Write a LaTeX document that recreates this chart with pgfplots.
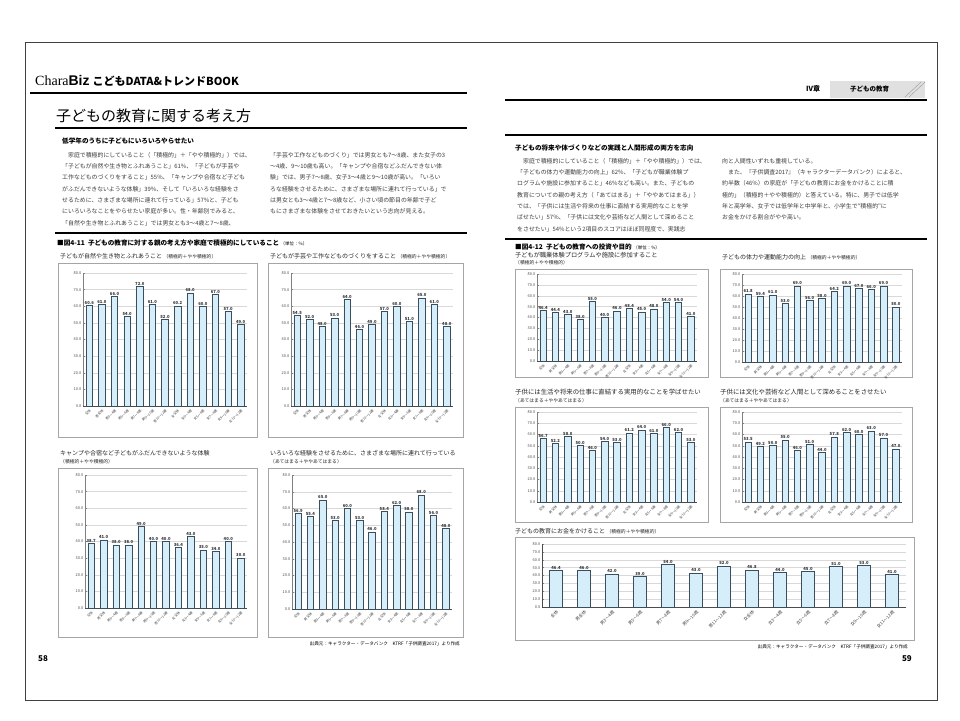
\documentclass[border=0pt]{standalone}
\usepackage{pgfplots}
\pgfplotsset{compat=1.18}
\usepackage{fontspec}
\setmainfont{Noto Sans CJK JP}
\newfontfamily\serifen{Liberation Serif}
\newfontfamily\sansen{Liberation Sans}
\definecolor{barfill}{RGB}{214,238,250}
\definecolor{bardraw}{RGB}{58,79,94}
\definecolor{gridc}{RGB}{217,217,217}
\definecolor{boxc}{RGB}{165,165,165}
\definecolor{txt}{RGB}{60,60,60}
\newcommand\fs[1]{\fontsize{#1}{#1}\selectfont}
\pgfplotsset{
  mini/.style={
    scale only axis, anchor=south west,
    ybar, bar width=6.5pt,
    ymin=0, ymax=80, ytick={0,10,...,80},
    xmin=-0.5, xmax=12.5, xtick={0,...,12},
    xticklabels={全体,男全体,男3～4歳,男5～6歳,男7～8歳,男9～10歳,男11～12歳,女全体,女3～4歳,女5～6歳,女7～8歳,女9～10歳,女11～12歳},
    axis x line*=bottom, axis y line*=left,
    ymajorgrids, grid style={gridc, line width=0.5pt},
    x axis line style={black!70, line width=0.7pt, -},
    y axis line style={black!50, line width=0.5pt, -},
    xtick style={draw=none},
    ytick style={black!50, line width=0.4pt},
    major tick length=2pt,
    /pgf/number format/assume math mode=true,
    yticklabel={\pgfmathprintnumber[fixed,fixed zerofill,precision=1]{\tick}},
    yticklabel style={font=\fs{3.9}, text=black!70, inner sep=1.5pt},
    xticklabel style={font=\fs{3.3}, text=black!75, rotate=45, anchor=north east, inner sep=0.6pt},
    nodes near coords={\pgfmathprintnumber[fixed,fixed zerofill,precision=1]{\pgfplotspointmeta}},
    every node near coord/.append style={font=\bfseries\fs{4.2}, text=black!80, inner sep=0.8pt},
    clip=false,
  },
  barsty/.style={fill=barfill, draw=bardraw, line width=0.6pt},
}
\begin{document}
\begin{tikzpicture}[x=1pt,y=1pt]
\fill[white] (0,0) rectangle (960,-720);
\path[use as bounding box] (0,0) rectangle (960,-720);
% page frame
\draw[black!75, line width=0.8pt] (25,-42) rectangle (937,-700);
% ---------- left page header ----------
\node[anchor=west, inner sep=0] at (35,-81) {{\serifen\fs{14}Chara}{\sansen\bfseries\fs{14}Biz}\hspace{3pt}{\bfseries\fs{11}こどもDATA\&トレンドBOOK}};
\draw[black, line width=1.3pt] (30,-93) -- (467,-93);
\node[anchor=west, inner sep=0] at (56,-116) {\fs{15}子どもの教育に関する考え方};
\draw[black, line width=1.3pt] (55,-128) -- (467,-128);
\node[anchor=west, inner sep=0] at (62,-141) {\bfseries\fs{6.6}低学年のうちに子どもにいろいろやらせたい};
\begin{scope}[every node/.style={anchor=west, inner sep=0, font=\fs{5.9}, text=txt}]
\node at (62,-155) {　家庭で積極的にしていること（「積極的」＋「やや積極的」）では、};
\node at (62,-166.3) {「子どもが自然や生き物とふれあうこと」61\%、「子どもが手芸や};
\node at (62,-177.6) {工作などものづくりをすること」55\%、「キャンプや合宿など子ども};
\node at (62,-188.9) {がふだんできないような体験」39\%、そして「いろいろな経験をさ};
\node at (62,-200.2) {せるために、さまざまな場所に連れて行っている」57\%と、子ども};
\node at (62,-211.5) {にいろいろなことをやらせたい家庭が多い。性・年齢別でみると、};
\node at (62,-222.8) {「自然や生き物とふれあうこと」では男女とも3～4歳と7～8歳、};
\node at (270,-155) {「手芸や工作などものづくり」では男女とも7～8歳、また女子の3};
\node at (270,-166.3) {～4歳、9～10歳も高い。「キャンプや合宿などふだんできない体};
\node at (270,-177.6) {験」では、男子7～8歳、女子3～4歳と9～10歳が高い。「いろい};
\node at (270,-188.9) {ろな経験をさせるために、さまざまな場所に連れて行っている」で};
\node at (270,-200.2) {は男女とも3～4歳と7～8歳など、小さい頃の節目の年齢で子ど};
\node at (270,-211.5) {もにさまざまな体験をさせておきたいという志向が見える。};
\end{scope}
\draw[black, line width=1.5pt] (55,-233) -- (467,-233);
\node[anchor=west, inner sep=0] at (57,-243) {\bfseries\fs{6.6}■図4-11\ \ 子どもの教育に対する親の考え方や家庭で積極的にしていること\ {\mdseries\fs{4.5}（単位：\%）}};
% ---------- right page header ----------
\node[anchor=west, inner sep=0] at (806,-89) {\bfseries\fs{7}Ⅳ章};
\fill[black!12] (830,-81) rectangle (925,-98);
\draw[black!40, line width=0.4pt] (905,-97) -- (921,-82) (909,-97) -- (925,-82);
\node[anchor=west, inner sep=0] at (850,-89.5) {\bfseries\fs{6.5}子どもの教育};
\draw[black, line width=1.3pt] (505,-100) -- (927,-100);
\draw[black, line width=1.5pt] (505,-135) -- (927,-135);
\node[anchor=west, inner sep=0] at (515,-148) {\bfseries\fs{6.6}子どもの将来や体づくりなどの実践と人間形成の両方を志向};
\begin{scope}[every node/.style={anchor=west, inner sep=0, font=\fs{5.9}, text=txt}]
\node at (517,-161) {　家庭で積極的にしていること（「積極的」＋「やや積極的」）では、};
\node at (517,-172.3) {「子どもの体力や運動能力の向上」62\%、「子どもが職業体験プ};
\node at (517,-183.6) {ログラムや施設に参加すること」46\%なども高い。また、子どもの};
\node at (517,-194.9) {教育についての親の考え方（「あてはまる」＋「ややあてはまる」）};
\node at (517,-206.2) {では、「子供には生活や将来の仕事に直結する実用的なことを学};
\node at (517,-217.5) {ばせたい」57\%、「子供には文化や芸術など人間として深めること};
\node at (517,-228.8) {をさせたい」54\%という2項目のスコアはほぼ同程度で、実践志};
\node at (722,-161) {向と人間性いずれも重視している。};
\node at (722,-172.3) {　また、『子供調査2017』（キャラクターデータバンク）によると、};
\node at (722,-183.6) {約半数（46\%）の家庭が「子どもの教育にお金をかけることに積};
\node at (722,-194.9) {極的」（積極的＋やや積極的）と答えている。特に、男子では低学};
\node at (722,-206.2) {年と高学年、女子では低学年と中学年と、小学生で“積極的”に};
\node at (722,-217.5) {お金をかける割合がやや高い。};
\end{scope}
\draw[black, line width=1.5pt] (505,-239) -- (927,-239);
\node[anchor=west, inner sep=0] at (515,-247) {\bfseries\fs{6.6}■図4-12\ \ 子どもの教育への投資や目的\ {\mdseries\fs{4.5}（単位：\%）}};
% ---------- chart boxes ----------
\begin{scope}[boxc, line width=0.6pt]
\draw (58,-263) rectangle (257,-437);
\draw (268,-263) rectangle (463,-437);
\draw (58,-468) rectangle (257,-637);
\draw (268,-468) rectangle (463,-637);
\draw (515,-269) rectangle (708,-377);
\draw (720,-269) rectangle (912,-377);
\draw (515,-407) rectangle (708,-522);
\draw (720,-407) rectangle (912,-522);
\draw (515,-537) rectangle (914,-640);
\end{scope}
% ---------- chart titles ----------
\begin{scope}[every node/.style={anchor=west, inner sep=0, text=black!85}]
\node at (60,-256) {\fs{6}子どもが自然や生き物とふれあうこと\ {\fs{4.8}（積極的＋やや積極的）}};
\node at (270,-256) {\fs{6}子どもが手芸や工作などものづくりをすること\ {\fs{4.8}（積極的＋やや積極的）}};
\node at (60,-453) {\fs{6}キャンプや合宿など子どもがふだんできないような体験};
\node at (60,-461.5) {\fs{4.8}（積極的＋やや積極的）};
\node at (270,-453) {\fs{6}いろいろな経験をさせるために、さまざまな場所に連れて行っている};
\node at (270,-461.5) {\fs{4.8}（あてはまる＋ややあてはまる）};
\node at (515,-255) {\fs{6.2}子どもが職業体験プログラムや施設に参加すること};
\node at (515,-263) {\fs{4.8}（積極的＋やや積極的）};
\node at (722,-257) {\fs{6}子どもの体力や運動能力の向上\ {\fs{4.8}（積極的＋やや積極的）}};
\node at (515,-392) {\fs{6.4}子供には生活や将来の仕事に直結する実用的なことを学ばせたい};
\node at (515,-400.5) {\fs{4.8}（あてはまる＋ややあてはまる）};
\node at (720,-392) {\fs{6.4}子供には文化や芸術など人間として深めることをさせたい};
\node at (720,-400.5) {\fs{4.8}（あてはまる＋ややあてはまる）};
\node at (515,-531) {\fs{6}子どもの教育にお金をかけること\ {\fs{4.8}（積極的＋やや積極的）}};
\end{scope}
% sources and page numbers
\node[anchor=east, inner sep=0] at (460,-644) {\fs{4.6}出典元：キャラクター・データバンク\quad KTRF「子供調査2017」より作成};
\node[anchor=east, inner sep=0] at (908,-647) {\fs{4.6}出典元：キャラクター・データバンク\quad KTRF「子供調査2017」より作成};
\node[anchor=west, inner sep=0] at (38,-659) {\bfseries\fs{8}58};
\node[anchor=east, inner sep=0] at (912,-659) {\bfseries\fs{8}59};
% ---------- charts ----------
\begin{axis}[mini, at={(83pt,-406pt)}, width=164pt, height=133pt]
\addplot[barsty] coordinates {(0,60.6) (1,61.0) (2,66.0) (3,54.0) (4,72.0) (5,61.0) (6,52.0) (7,60.2) (8,68.0) (9,60.0) (10,67.0) (11,57.0) (12,49.0)};
\end{axis}
\begin{axis}[mini, at={(291pt,-406pt)}, width=162pt, height=133pt]
\addplot[barsty] coordinates {(0,54.5) (1,52.0) (2,48.0) (3,53.0) (4,64.0) (5,46.0) (6,49.0) (7,57.0) (8,60.0) (9,51.0) (10,65.0) (11,61.0) (12,48.0)};
\end{axis}
\begin{axis}[mini, at={(85pt,-608pt)}, width=162pt, height=133pt]
\addplot[barsty] coordinates {(0,38.7) (1,41.0) (2,38.0) (3,38.0) (4,49.0) (5,40.0) (6,40.0) (7,36.4) (8,43.0) (9,35.0) (10,34.0) (11,40.0) (12,30.0)};
\end{axis}
\begin{axis}[mini, at={(292pt,-609pt)}, width=160pt, height=134pt]
\addplot[barsty] coordinates {(0,56.9) (1,55.4) (2,65.0) (3,53.0) (4,60.0) (5,53.0) (6,46.0) (7,58.4) (8,62.0) (9,58.0) (10,68.0) (11,56.0) (12,48.0)};
\end{axis}
\begin{axis}[mini, at={(537pt,-361pt)}, width=160pt, height=87pt]
\addplot[barsty] coordinates {(0,46.4) (1,44.4) (2,43.0) (3,38.0) (4,55.0) (5,40.0) (6,46.0) (7,48.4) (8,45.0) (9,48.0) (10,54.0) (11,54.0) (12,41.0)};
\end{axis}
\begin{axis}[mini, at={(742pt,-362pt)}, width=160pt, height=88pt]
\addplot[barsty] coordinates {(0,61.8) (1,59.4) (2,61.0) (3,53.0) (4,69.0) (5,56.0) (6,58.0) (7,64.2) (8,69.0) (9,67.0) (10,66.0) (11,69.0) (12,50.0)};
\end{axis}
\begin{axis}[mini, at={(537pt,-502pt)}, width=160pt, height=90pt]
\addplot[barsty] coordinates {(0,56.7) (1,52.2) (2,58.0) (3,50.0) (4,46.0) (5,54.0) (6,53.0) (7,61.2) (8,64.0) (9,61.0) (10,66.0) (11,62.0) (12,53.0)};
\end{axis}
\begin{axis}[mini, at={(742pt,-502pt)}, width=160pt, height=90pt]
\addplot[barsty] coordinates {(0,53.5) (1,49.2) (2,50.0) (3,55.0) (4,46.0) (5,51.0) (6,44.0) (7,57.8) (8,62.0) (9,60.0) (10,63.0) (11,57.0) (12,47.0)};
\end{axis}
\begin{axis}[mini, at={(542pt,-607pt)}, width=364pt, height=63pt, bar width=13pt, y axis line style={black!70, line width=0.7pt, -}, xticklabel style={font=\fs{4.3}}]
\addplot[barsty, line width=0.8pt] coordinates {(0,46.4) (1,46.0) (2,42.0) (3,39.0) (4,54.0) (5,43.0) (6,52.0) (7,46.8) (8,44.0) (9,45.0) (10,51.0) (11,53.0) (12,41.0)};
\end{axis}
\end{tikzpicture}
\end{document}
